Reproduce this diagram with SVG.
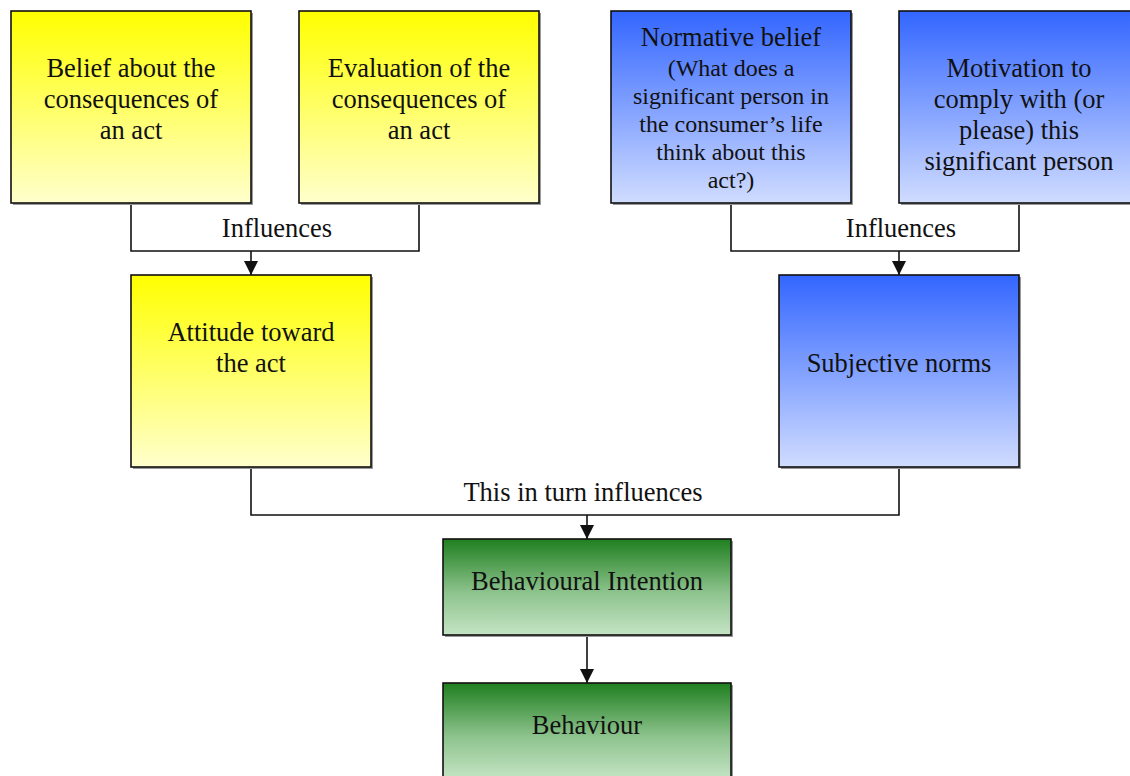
<svg xmlns="http://www.w3.org/2000/svg" width="1130" height="776" viewBox="0 0 1130 776">
  <style>
    .box { stroke: #111; stroke-width: 1.6; }
    .shadow { fill: #9a9a9a; }
    .t { font-family: "Liberation Serif", "Times New Roman", serif; font-size: 26.5px; fill: #111; text-anchor: middle; }
    .s { font-size: 24px; }
    .wire { fill: none; stroke: #111; stroke-width: 1.6; }
  </style>
  <defs>
    <linearGradient id="gYellow" x1="0" y1="0" x2="0" y2="1">
      <stop offset="0" stop-color="#FFFF00"/>
      <stop offset="1" stop-color="#FFFFCC"/>
    </linearGradient>
    <linearGradient id="gBlue" x1="0" y1="0" x2="0" y2="1">
      <stop offset="0" stop-color="#3366FF"/>
      <stop offset="1" stop-color="#D0DCFF"/>
    </linearGradient>
    <linearGradient id="gGreen" x1="0" y1="0" x2="0" y2="1">
      <stop offset="0" stop-color="#1F7F1F"/>
      <stop offset="0.55" stop-color="#8CC28C"/>
      <stop offset="1" stop-color="#C4E4C4"/>
    </linearGradient>
    <marker id="arrow" viewBox="0 0 10 10" refX="10" refY="5" markerWidth="14" markerHeight="14" markerUnits="userSpaceOnUse" orient="auto">
      <path d="M0,0 L10,5 L0,10 Z" fill="#111"/>
    </marker>
  </defs>

  <rect width="1130" height="776" fill="#fff"/>

  <!-- connectors -->
  <g id="connectors">
    <path class="wire" d="M131,203 V251 H419 V203"/>
    <path class="wire" d="M251,251 V275" marker-end="url(#arrow)"/>
    <text class="t" x="277" y="237">Influences</text>

    <path class="wire" d="M731,203 V251 H1019 V203"/>
    <path class="wire" d="M899,251 V275" marker-end="url(#arrow)"/>
    <text class="t" x="901" y="237">Influences</text>

    <path class="wire" d="M251,467 V515 H899 V467"/>
    <path class="wire" d="M587,515 V539" marker-end="url(#arrow)"/>
    <text class="t" x="583" y="501">This in turn influences</text>

    <path class="wire" d="M587,635 V683" marker-end="url(#arrow)"/>
  </g>

  <!-- belief about consequences -->
  <g id="belief">
    <rect class="shadow" x="13" y="13" width="240" height="192"/>
    <rect class="box" x="11" y="11" width="240" height="192" fill="url(#gYellow)"/>
    <text class="t" x="131" y="77">Belief about the</text>
    <text class="t" x="131" y="108">consequences of</text>
    <text class="t" x="131" y="139">an act</text>
  </g>

  <!-- evaluation of consequences -->
  <g id="evaluation">
    <rect class="shadow" x="301" y="13" width="240" height="192"/>
    <rect class="box" x="299" y="11" width="240" height="192" fill="url(#gYellow)"/>
    <text class="t" x="419" y="77">Evaluation of the</text>
    <text class="t" x="419" y="108">consequences of</text>
    <text class="t" x="419" y="139">an act</text>
  </g>

  <!-- normative belief -->
  <g id="normative">
    <rect class="shadow" x="613" y="13" width="240" height="192"/>
    <rect class="box" x="611" y="11" width="240" height="192" fill="url(#gBlue)"/>
    <text class="t" x="731" y="46">Normative belief</text>
    <text class="t s" x="731" y="76">(What does a</text>
    <text class="t s" x="731" y="104">significant person in</text>
    <text class="t s" x="731" y="132">the consumer’s life</text>
    <text class="t s" x="731" y="160">think about this</text>
    <text class="t s" x="731" y="188">act?)</text>
  </g>

  <!-- motivation to comply -->
  <g id="motivation">
    <rect class="shadow" x="901" y="13" width="240" height="192"/>
    <rect class="box" x="899" y="11" width="240" height="192" fill="url(#gBlue)"/>
    <text class="t" x="1019" y="77">Motivation to</text>
    <text class="t" x="1019" y="108">comply with (or</text>
    <text class="t" x="1019" y="139">please) this</text>
    <text class="t" x="1019" y="170">significant person</text>
  </g>

  <!-- attitude -->
  <g id="attitude">
    <rect class="shadow" x="133" y="277" width="240" height="192"/>
    <rect class="box" x="131" y="275" width="240" height="192" fill="url(#gYellow)"/>
    <text class="t" x="251" y="341">Attitude toward</text>
    <text class="t" x="251" y="372">the act</text>
  </g>

  <!-- subjective norms -->
  <g id="subjective">
    <rect class="shadow" x="781" y="277" width="240" height="192"/>
    <rect class="box" x="779" y="275" width="240" height="192" fill="url(#gBlue)"/>
    <text class="t" x="899" y="372">Subjective norms</text>
  </g>

  <!-- behavioural intention -->
  <g id="intention">
    <rect class="shadow" x="445" y="541" width="288" height="96"/>
    <rect class="box" x="443" y="539" width="288" height="96" fill="url(#gGreen)"/>
    <text class="t" x="587" y="590">Behavioural Intention</text>
  </g>

  <!-- behaviour -->
  <g id="behaviour">
    <rect class="shadow" x="445" y="685" width="288" height="96"/>
    <rect class="box" x="443" y="683" width="288" height="96" fill="url(#gGreen)"/>
    <text class="t" x="587" y="734">Behaviour</text>
  </g>
</svg>
